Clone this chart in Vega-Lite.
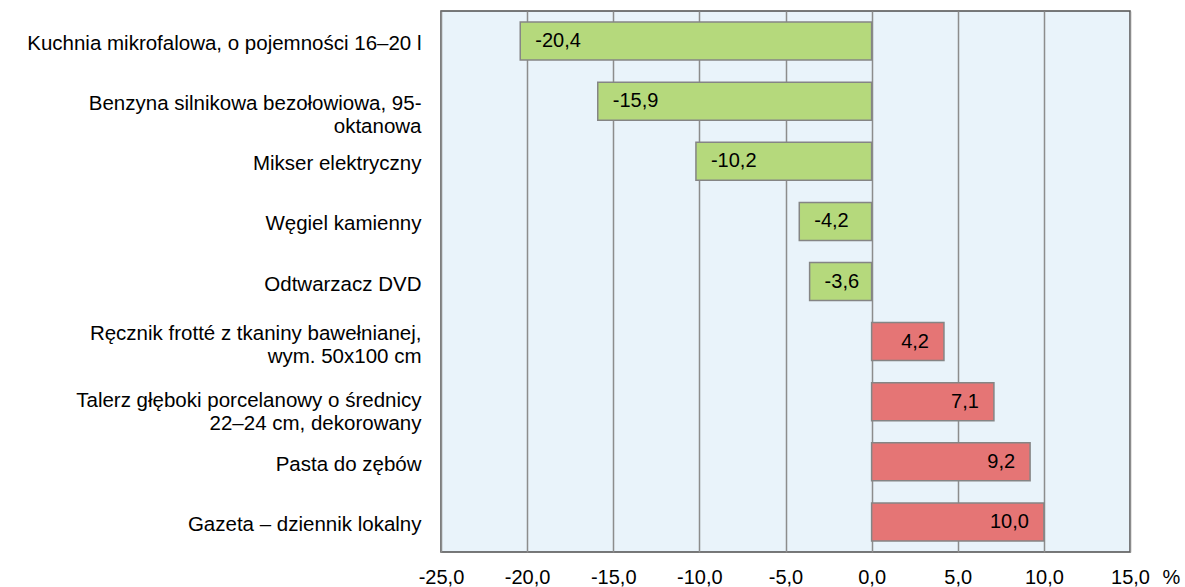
{
  "$schema": "https://vega.github.io/schema/vega-lite/v6.json",
  "width": 689,
  "height": 541,
  "autosize": "none",
  "padding": {"left": 441, "top": 11, "right": 55, "bottom": 35},
  "background": "white",
  "config": {
    "font": "Liberation Sans",
    "view": {"fill": "#E9F3FA", "stroke": "#4d4d4d", "strokeWidth": 1.5}
  },
  "data": {
    "values": [
      {"name": "Kuchnia mikrofalowa, o pojemności 16–20 l", "v": -20.4},
      {"name": "Benzyna silnikowa bezołowiowa, 95-|oktanowa", "v": -15.9},
      {"name": "Mikser elektryczny", "v": -10.2},
      {"name": "Węgiel kamienny", "v": -4.2},
      {"name": "Odtwarzacz DVD", "v": -3.6},
      {"name": "Ręcznik frotté z tkaniny bawełnianej,|wym. 50x100 cm", "v": 4.2},
      {"name": "Talerz głęboki porcelanowy o średnicy|22–24 cm, dekorowany", "v": 7.1},
      {"name": "Pasta do zębów", "v": 9.2},
      {"name": "Gazeta – dziennik lokalny", "v": 10.0}
    ]
  },
  "transform": [
    {"calculate": "replace(replace(format(datum.v, '.1f'), '.', ','), '−', '-')", "as": "lab"}
  ],
  "encoding": {
    "y": {
      "field": "name",
      "type": "nominal",
      "sort": null,
      "scale": {"paddingInner": 0.368, "paddingOuter": 0.184},
      "axis": {
        "title": null,
        "ticks": false,
        "domain": false,
        "labelExpr": "split(datum.value, '|')",
        "labelFontSize": 20.5,
        "labelColor": "#000000",
        "labelPadding": 20,
        "labelLimit": 500,
        "labelLineHeight": 23,
        "labelAlign": "right",
        "labelOffset": {
          "condition": [
            {"test": "indexof(datum.value, 'Ręcznik') == 0", "value": -8},
            {"test": "indexof(datum.value, 'Talerz') == 0", "value": -1}
          ],
          "value": 3
        }
      }
    }
  },
  "layer": [
    {
      "mark": {"type": "bar", "stroke": "#858585", "strokeWidth": 1.5},
      "encoding": {
        "x": {
          "field": "v",
          "type": "quantitative",
          "scale": {"domain": [-25, 15], "nice": false, "zero": false},
          "axis": {
            "values": [-25, -20, -15, -10, -5, 0, 5, 10, 15],
            "labelExpr": "replace(replace(format(datum.value, '.1f'), '.', ','), '−', '-')",
            "grid": true,
            "gridColor": "#8c8c8c",
            "gridWidth": 1.5,
            "ticks": false,
            "domain": false,
            "labelFontSize": 20,
            "labelColor": "#000000",
            "labelPadding": 15,
            "labelFlush": false,
            "title": "%",
            "titleFontSize": 20,
            "titleFontWeight": "normal",
            "titleColor": "#000000",
            "titleAlign": "left",
            "titleBaseline": "top",
            "titleAnchor": null,
            "titleX": 721,
            "titleY": 15
          }
        },
        "color": {
          "condition": {"test": "datum.v < 0", "value": "#B5D97C"},
          "value": "#E57575"
        }
      }
    },
    {
      "transform": [{"filter": "datum.v < 0"}],
      "mark": {"type": "text", "align": "left", "baseline": "middle", "dx": 15, "fontSize": 20, "color": "#000000"},
      "encoding": {
        "x": {"field": "v", "type": "quantitative"},
        "text": {"field": "lab"}
      }
    },
    {
      "transform": [{"filter": "datum.v > 0"}],
      "mark": {"type": "text", "align": "right", "baseline": "middle", "dx": -15, "fontSize": 20, "color": "#000000"},
      "encoding": {
        "x": {"field": "v", "type": "quantitative"},
        "text": {"field": "lab"}
      }
    }
  ]
}
